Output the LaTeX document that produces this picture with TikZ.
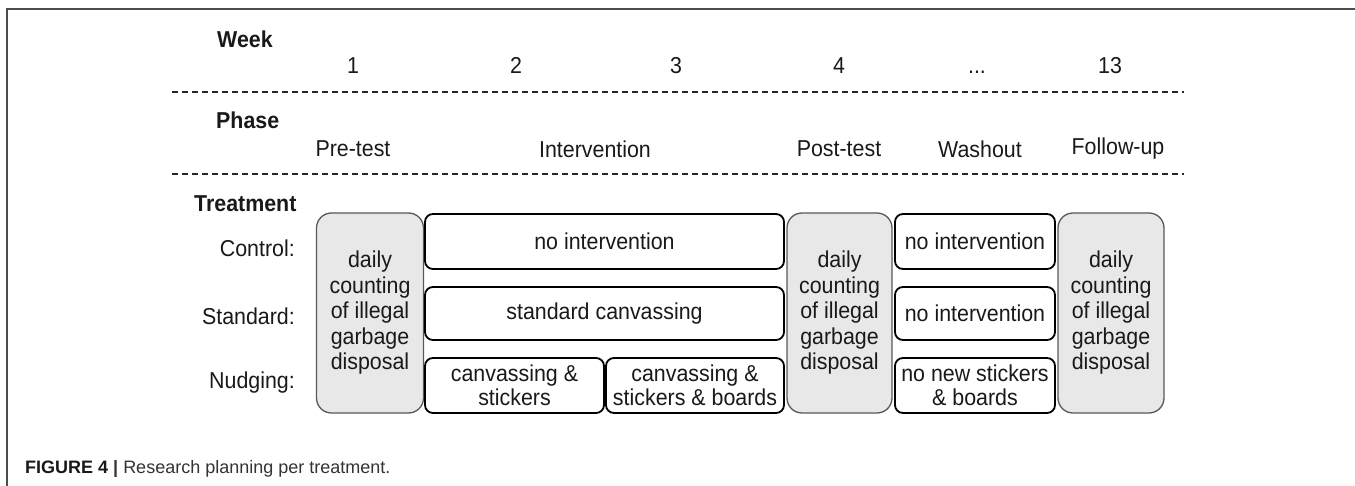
\documentclass[tikz,border=0pt]{standalone}
\usepackage{fontspec}
\setmainfont[FakeStretch=0.93]{Liberation Sans}
\newfontfamily\capfont{Liberation Sans}
\begin{document}
\begin{tikzpicture}[x=1pt,y=-1pt,
  txt/.style={font=\fontsize{23}{26}\selectfont, text=black!90, inner sep=0pt},
  head/.style={txt, font=\fontsize{23}{26}\selectfont\bfseries},
  num/.style={txt, anchor=base},
  rowlab/.style={txt, anchor=east},
  wbox/.style={draw=black, line width=1.8pt, rounded corners=8pt, fill=white,
    txt, align=center, font=\fontsize{23}{24}\selectfont},
  gbox/.style={draw=black!65, line width=1.3pt, rounded corners=15pt, fill=black!9,
    txt, align=center, font=\fontsize{23}{25.5}\selectfont,
    minimum height=200pt},
  sep/.style={line width=1.7pt, dash pattern=on 6pt off 4pt, black!85},
  frameline/.style={line width=2pt, black!70}]
\useasboundingbox (0,0) rectangle (1355,486);

% figure frame
\coordinate (ftl) at (7,9);
\coordinate (ftr) at (1355,9);
\coordinate (fbl) at (7,486);
\draw[frameline] (fbl) -- (ftl) -- (ftr);

% header rows
\node[head, anchor=west] (week) at (217,39) {Week};
\node[head, anchor=west] (phase) at (216,120) {Phase};
\node[head, anchor=west] (treat) at (194,204) {Treatment};

\node[num] (w1) at (353,74) {1};
\node[num] (w2) at (516,74) {2};
\node[num] (w3) at (676,74) {3};
\node[num] (w4) at (839,74) {4};
\node[num] (wd) at (977,74) {...};
\node[num] (w13) at (1110,74) {13};

\coordinate (d1a) at (172,92);
\coordinate (d1b) at (1184,92);
\draw[sep] (d1a) -- (d1b);

\node[txt] (p1) at (353,149) {Pre-test};
\node[txt] (p2) at (595,149) {Intervention};
\node[txt] (p3) at (839,149) {Post-test};
\node[txt] (p4) at (980,149) {Washout};
\node[txt] (p5) at (1118,149) {Follow-up};

\coordinate (d2a) at (172,174);
\coordinate (d2b) at (1184,174);
\draw[sep] (d2a) -- (d2b);

% treatment labels
\node[rowlab] (lc) at (295,248) {Control:};
\node[rowlab] (ls) at (295,316) {Standard:};
\node[rowlab] (ln) at (295,383) {Nudging:};

% measurement weeks
\node[gbox, minimum width=107pt] (pre) at (370,313)
  {daily\\counting\\of illegal\\garbage\\disposal};
\node[gbox, minimum width=105pt] (post) at (839.5,313)
  {daily\\counting\\of illegal\\garbage\\disposal};
\node[gbox, minimum width=106pt] (fol) at (1111,313)
  {daily\\counting\\of illegal\\garbage\\disposal};

% intervention weeks
\node[wbox, minimum width=359pt, minimum height=55pt] (ci) at (604.5,241.5) {no intervention};
\node[wbox, minimum width=359pt, minimum height=53pt] (si) at (604.5,313.5) {standard canvassing};
\node[wbox, minimum width=179pt, minimum height=55pt] (na) at (514.5,385.5) {canvassing \&\\stickers};
\node[wbox, minimum width=178pt, minimum height=55pt] (nb) at (695,385.5) {canvassing \&\\stickers \& boards};

% washout weeks
\node[wbox, minimum width=160pt, minimum height=55pt] (cw) at (975,241.5) {no intervention};
\node[wbox, minimum width=160pt, minimum height=53pt] (sw) at (975,313.5) {no intervention};
\node[wbox, minimum width=160pt, minimum height=55pt] (nw) at (975,385.5) {no new stickers\\\& boards};

% caption
\node[anchor=base west, inner sep=0pt, font=\capfont\fontsize{18}{20}\selectfont, text=black!80] (cap) at (25,473)
  {{\bfseries\color{black!90}FIGURE 4} {\bfseries |} Research planning per treatment.};
\end{tikzpicture}
\end{document}
